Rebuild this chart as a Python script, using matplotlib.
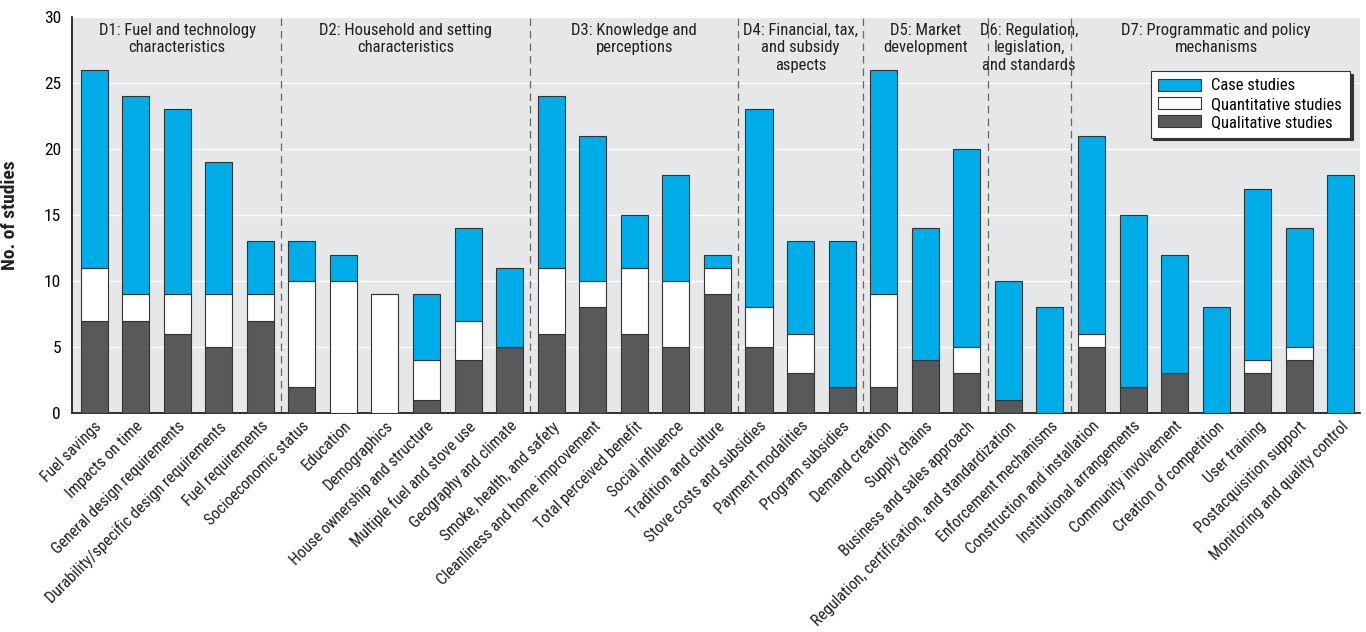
import matplotlib
matplotlib.use("Agg")
import matplotlib.pyplot as plt
import numpy as np

plt.rcParams["font.family"] = ["Roboto Condensed", "DejaVu Sans"]

CATEGORIES = [
    "Fuel savings", "Impacts on time", "General design requirements",
    "Durability/specific design requirements", "Fuel requirements",
    "Socioeconomic status", "Education", "Demographics",
    "House ownership and structure", "Multiple fuel and stove use",
    "Geography and climate", "Smoke, health, and safety",
    "Cleanliness and home improvement", "Total perceived benefit",
    "Social influence", "Tradition and culture", "Stove costs and subsidies",
    "Payment modalities", "Program subsidies", "Demand creation",
    "Supply chains", "Business and sales approach",
    "Regulation, certification, and standardization", "Enforcement mechanisms",
    "Construction and installation", "Institutional arrangements",
    "Community involvement", "Creation of competition", "User training",
    "Postacquisition support", "Monitoring and quality control",
]
QUALITATIVE = [7, 7, 6, 5, 7, 2, 0, 0, 1, 4, 5, 6, 8, 6, 5, 9, 5, 3, 2, 2, 4, 3, 1, 0, 5, 2, 3, 0, 3, 4, 0]
QUANTITATIVE = [4, 2, 3, 4, 2, 8, 10, 9, 3, 3, 0, 5, 2, 5, 5, 2, 3, 3, 0, 7, 0, 2, 0, 0, 1, 0, 0, 0, 1, 1, 0]
CASE = [15, 15, 14, 10, 4, 3, 2, 0, 5, 7, 6, 13, 11, 4, 8, 1, 15, 7, 11, 17, 10, 15, 9, 8, 15, 13, 9, 8, 13, 9, 18]

GROUP_LABELS = [
    "D1: Fuel and technology\ncharacteristics",
    "D2: Household and setting\ncharacteristics",
    "D3: Knowledge and\nperceptions",
    "D4: Financial, tax,\nand subsidy\naspects",
    "D5: Market\ndevelopment",
    "D6: Regulation,\nlegislation,\nand standards",
    "D7: Programmatic and policy\nmechanisms",
]
GROUP_SIZES = [5, 6, 5, 3, 3, 2, 7]

BLUE = "#00ade9"
DARK = "#58595b"
BG = "#e6e7e8"
EDGE = "#333333"

fig = plt.figure(figsize=(13.66, 6.32), dpi=100)
ax = fig.add_axes([0.0527, 0.3465, 0.9429, 0.6265])
ax.set_facecolor(BG)

x = np.arange(len(CATEGORIES))
qual = np.array(QUALITATIVE)
quant = np.array(QUANTITATIVE)
case = np.array(CASE)
w = 0.65

ax.bar(x, qual, w, color=DARK, edgecolor=EDGE, linewidth=0.8, label="Qualitative studies", zorder=3)
ax.bar(x, quant, w, bottom=qual, color="white", edgecolor=EDGE, linewidth=0.8,
       label="Quantitative studies", zorder=3)
ax.bar(x, case, w, bottom=qual + quant, color=BLUE, edgecolor=EDGE, linewidth=0.8,
       label="Case studies", zorder=3)

ax.set_ylim(0, 30)
ax.set_xlim(-0.53, len(CATEGORIES) - 0.54)
ax.set_yticks(range(0, 31, 5))
ax.tick_params(axis="y", length=0, labelsize=12.5, pad=8)
ax.tick_params(axis="x", length=0, pad=4)
ax.yaxis.grid(True, color="white", linewidth=1.0, zorder=0)
ax.set_axisbelow(True)
ax.set_xticks(x)
ax.set_xticklabels(CATEGORIES, rotation=45, ha="right", rotation_mode="anchor", fontsize=11.5,
                   color="#231f20")
ax.set_ylabel("No. of studies", fontsize=14, fontweight="bold", labelpad=18, color="#231f20")

for side in ["top", "right"]:
    ax.spines[side].set_visible(False)
ax.spines["left"].set_color("#231f20")
ax.spines["bottom"].set_color("#231f20")
ax.spines["left"].set_linewidth(1.3)
ax.spines["bottom"].set_linewidth(1.3)

start = 0
for size, label in zip(GROUP_SIZES, GROUP_LABELS):
    end = start + size
    if end < len(CATEGORIES):
        ax.axvline(end - 0.5, color="#666666", linestyle=(0, (6, 4)), linewidth=0.9, zorder=2)
    ax.text((start + end - 1) / 2, 29.55, label, ha="center", va="top", fontsize=12,
            color="#231f20", linespacing=1.2, zorder=4)
    start = end

handles, labels = ax.get_legend_handles_labels()
leg = ax.legend(handles[::-1], labels[::-1], loc="upper right", bbox_to_anchor=(0.9985, 0.885),
                fontsize=12, frameon=True, fancybox=False, shadow={"color": "#333333", "alpha": 1},
                handlelength=2.6, handleheight=0.75, borderpad=0.45, labelspacing=0.2,
                handletextpad=0.6)
leg.get_frame().set_edgecolor("#333333")
leg.get_frame().set_facecolor("white")
leg.get_frame().set_linewidth(0.8)

fig.savefig("out.png", dpi=100)
